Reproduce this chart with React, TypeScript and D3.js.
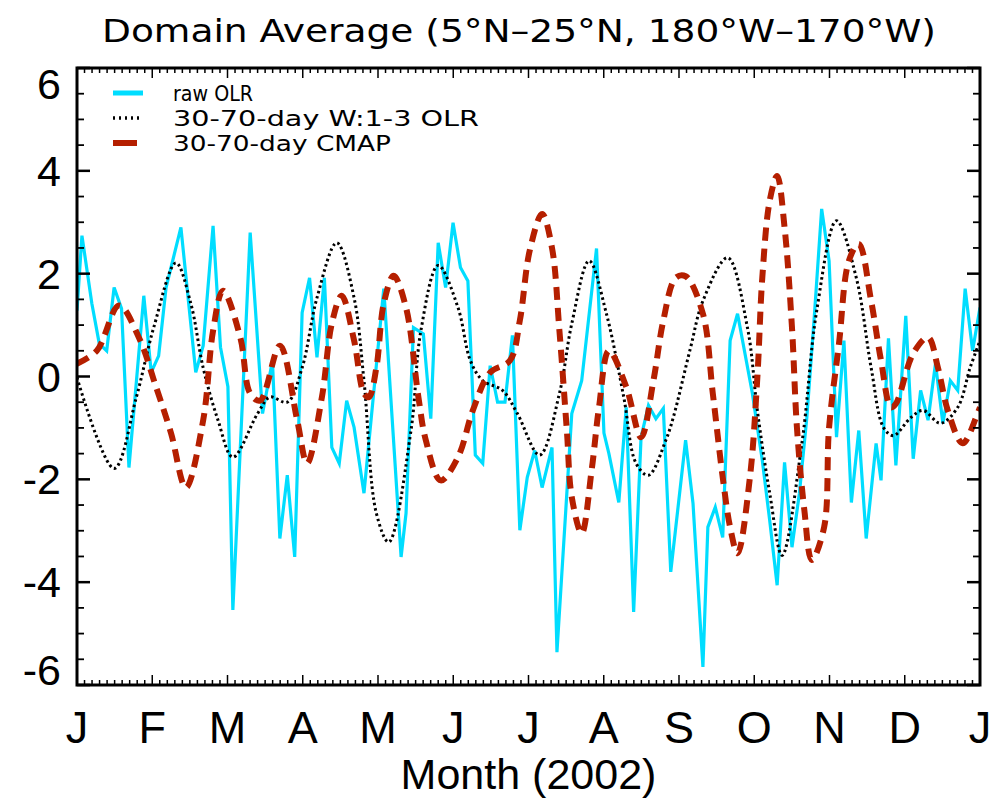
import React from "react";
import * as d3 from "d3";

// month labels along the bottom (equal spacing, Jan 2002 .. Jan 2003)
const months = ["J", "F", "M", "A", "M", "J", "J", "A", "S", "O", "N", "D", "J"];
const yTicks = [-6, -4, -2, 0, 2, 4, 6];

// raw OLR anomaly (3-day samples, day of year)
const rawDays = [0, 2, 6, 9, 12, 15, 18, 21, 27, 30, 33, 36, 42, 48, 51, 55, 58, 61, 63, 70, 75, 79, 82, 85, 88, 91, 94, 97, 100, 103, 106, 109, 112, 116, 124, 131, 133, 136, 140, 143, 146, 149, 152, 155, 158, 161, 164, 167, 170, 173, 176, 179, 182, 185, 188, 192, 194, 200, 204, 210, 213, 215, 219, 222, 225, 228, 231, 234, 237, 240, 246, 249, 253, 255, 258, 261, 264, 267, 273, 277, 280, 283, 286, 289, 292, 295, 298, 301, 304, 307, 310, 313, 316, 319, 323, 325, 328, 331, 335, 338, 341, 344, 347, 350, 353, 356, 359, 362, 365];
const rawOLR = [1.28, 2.74, 1.42, 0.64, 0.5, 1.73, 1.32, -1.77, 1.57, 0.08, 0.4, 1.73, 2.9, 0.08, 0.6, 2.93, 0.57, -0.2, -4.54, 2.8, -0.72, 0.31, -3.15, -1.92, -3.51, 1.24, 1.92, 0.37, 1.92, -1.38, -1.69, -0.47, -0.99, -2.27, 1.71, -3.51, -2.66, 0.95, 0.83, -0.82, 2.6, 1.73, 2.99, 2.12, 1.86, -1.53, -1.69, 0.21, -0.5, -0.5, 0.8, -2.99, -1.96, -1.44, -2.16, -1.38, -5.36, -0.72, -0.08, 2.49, -1.1, -1.5, -2.45, -0.6, -4.58, -1.18, -0.56, -0.82, -0.62, -3.8, -1.24, -2.47, -5.65, -2.93, -2.54, -3.13, 0.7, 1.22, -0.33, -1.63, -2.8, -4.06, -1.67, -3.32, -2.27, -0.8, 1.15, 3.26, 2.25, -1.18, 0.7, -2.45, -1.05, -3.15, -1.3, -2.02, 0.74, -1.73, 1.18, -1.6, -0.27, -0.85, 0.25, -0.91, -0.08, -0.27, 1.71, 0.5, 1.34];

// 30-70-day filtered, wavenumber 1-3 OLR
const filtDays = [0, 15, 24, 31, 40, 46, 51, 57, 63, 73, 78, 85, 91, 97, 105, 112, 116, 121, 126, 135, 139, 146, 154, 159, 164, 172, 178, 187, 195, 200, 207, 214, 221, 226, 231, 238, 241, 248, 253, 263, 271, 275, 280, 285, 293, 299, 307, 315, 321, 326, 330, 337, 342, 349, 356, 361, 365];
const filtOLR = [-0.02, -1.79, -0.4, 0.95, 2.21, 1.42, 0.17, -0.85, -1.57, -0.72, -0.4, -0.5, 0.17, 1.53, 2.6, 1.53, -0.08, -2.66, -3.22, -1.05, 0.89, 2.16, 1.34, 0.31, -0.08, -0.27, -0.72, -1.53, -0.33, 1.03, 2.25, 1.22, -0.4, -1.69, -1.92, -1.24, -0.8, 0.56, 1.47, 2.31, 0.95, -0.66, -2.27, -3.48, -1.3, 1.28, 3.03, 1.92, 0.17, -0.99, -1.15, -0.8, -0.66, -0.91, -0.6, 0.17, 0.7];

// 30-70-day filtered CMAP precipitation
const cmapDays = [0, 8, 17, 25, 32, 38, 44, 51, 55, 59, 66, 70, 74, 82, 89, 93, 99, 103, 107, 112, 116, 118, 121, 124, 128, 133, 138, 141, 147, 154, 160, 167, 175, 179, 183, 188, 192, 195, 198, 200, 204, 208, 211, 215, 222, 228, 233, 237, 242, 246, 253, 257, 261, 264, 267, 272, 275, 277, 280, 283, 286, 289, 291, 294, 297, 302, 304, 308, 312, 316, 321, 325, 329, 331, 338, 344, 348, 352, 358, 364, 365];
const cmapVals = [0.25, 0.5, 1.38, 0.76, -0.21, -1.1, -2.16, -0.85, 0.89, 1.67, 0.76, -0.33, -0.47, 0.6, -0.85, -1.69, -0.4, 1.03, 1.57, 0.7, -0.33, -0.4, 0.17, 1.42, 1.96, 1.34, -0.4, -1.24, -2.02, -1.57, -0.66, 0.08, 0.31, 1.09, 2.45, 3.16, 2.5, 0.89, -1.05, -2.35, -3.05, -1.83, -0.6, 0.5, -0.2, -1.18, -0.08, 1.09, 1.92, 1.95, 1.22, -0.33, -1.96, -2.93, -3.44, -1.96, -0.02, 1.92, 3.42, 3.9, 2.9, 0.95, -0.99, -2.6, -3.57, -2.93, -0.99, 0.64, 2.25, 2.58, 1.47, 0.31, -0.6, -0.53, 0.45, 0.76, 0.17, -0.66, -1.3, -0.72, -0.6];

const legendItems = [
  { label: "raw OLR", color: "#00DDFF", width: 5, dash: "none", len: 80, x2: 143 },
  { label: "30-70-day W:1-3 OLR", color: "#000000", width: 3.5, dash: "2 4", len: 306, x2: 141 },
  { label: "30-70-day CMAP", color: "#B51F00", width: 6, dash: "none", len: 218, x2: 137 },
];

const W = 994;
const H = 808;
const left = 77, right = 980, top = 68, bottom = 685;

export default function App() {
  const x = d3.scaleLinear().domain([0, 365]).range([left, right]);
  const y = d3.scaleLinear().domain([-6, 6]).range([bottom, top]);

  const line = d3.line<[number, number]>().x((d) => x(d[0])).y((d) => y(d[1]));
  const smooth = d3
    .line<[number, number]>()
    .x((d) => x(d[0]))
    .y((d) => y(d[1]))
    .curve(d3.curveCatmullRom.alpha(0.5));

  const rawPts = rawDays.map((d, i) => [d, rawOLR[i]] as [number, number]);
  const filtPts = filtDays.map((d, i) => [d, filtOLR[i]] as [number, number]);
  const cmapPts = cmapDays.map((d, i) => [d, cmapVals[i]] as [number, number]);

  const monthX = (m: number) => x((m * 365) / 12);
  const xMinor = d3.range(0, 121).map((i) => x((i * 365) / 120));
  const yMinor = d3.range(-6, 6.01, 0.5);

  const tickFont = "'Liberation Sans', Arial, Helvetica, sans-serif";
  const hershey = "'DejaVu Sans Condensed', 'DejaVu Sans', sans-serif";

  return (
    <svg
      width={W}
      height={H}
      style={{ position: "absolute", left: 0, top: 0, background: "#fff" }}
    >
      <defs>
        <clipPath id="plot">
          <rect x={left} y={top} width={right - left} height={bottom - top} />
        </clipPath>
      </defs>

      {/* title */}
      <text
        x={102}
        y={42}
        fontFamily={hershey}
        fontSize={32}
        textLength={834}
        lengthAdjust="spacingAndGlyphs"
      >
        Domain Average (5°N–25°N, 180°W–170°W)
      </text>

      {/* data */}
      <g clipPath="url(#plot)" fill="none">
        <path d={line(rawPts) || ""} stroke="#00DDFF" strokeWidth={3.2} strokeLinejoin="miter" />
        <path d={smooth(filtPts) || ""} stroke="#000" strokeWidth={3} strokeDasharray="2.5 3" />
        <path d={smooth(cmapPts) || ""} stroke="#B51F00" strokeWidth={6} strokeDasharray="13 8" />
      </g>

      {/* frame */}
      <rect
        x={left}
        y={top}
        width={right - left}
        height={bottom - top}
        fill="none"
        stroke="#000"
        strokeWidth={3}
      />

      {/* ticks */}
      <g stroke="#000" strokeWidth={1.5}>
        {xMinor.map((px, i) => {
          const len = i % 10 === 0 ? 10 : 5;
          return (
            <g key={"xt" + i}>
              <line x1={px} x2={px} y1={bottom} y2={bottom - len} />
              <line x1={px} x2={px} y1={top} y2={top + len} />
            </g>
          );
        })}
        {yMinor.map((v, i) => {
          const major = Math.abs(v % 2) < 1e-6;
          const len = major ? 13 : 7;
          return (
            <g key={"yt" + i} strokeWidth={major ? 2.5 : 1.8}>
              <line x1={left} x2={left + len} y1={y(v)} y2={y(v)} />
              <line x1={right} x2={right - len} y1={y(v)} y2={y(v)} />
            </g>
          );
        })}
      </g>

      {/* y labels */}
      {yTicks.map((v) => {
        const base = Math.min(Math.max(y(v) + 15, top + 31), bottom);
        return (
          <text
            key={"yl" + v}
            x={61}
            y={base}
            textAnchor="end"
            fontFamily={tickFont}
            fontSize={43}
          >
            {v}
          </text>
        );
      })}

      {/* month labels */}
      {months.map((m, i) => (
        <text
          key={"ml" + i}
          x={monthX(i)}
          y={743}
          textAnchor="middle"
          fontFamily={tickFont}
          fontSize={45}
        >
          {m}
        </text>
      ))}

      <text
        x={(left + right) / 2}
        y={789}
        textAnchor="middle"
        fontFamily={tickFont}
        fontSize={43}
      >
        Month (2002)
      </text>

      {/* legend */}
      {legendItems.map((it, i) => {
        const ly = 93 + i * 25;
        return (
          <g key={"lg" + i}>
            <line
              x1={113}
              x2={it.x2}
              y1={ly}
              y2={ly}
              stroke={it.color}
              strokeWidth={it.width}
              strokeDasharray={it.dash}
            />
            <text
              x={173}
              y={ly + 8}
              fontFamily={hershey}
              fontSize={21}
              textLength={it.len}
              lengthAdjust="spacingAndGlyphs"
            >
              {it.label}
            </text>
          </g>
        );
      })}
    </svg>
  );
}
